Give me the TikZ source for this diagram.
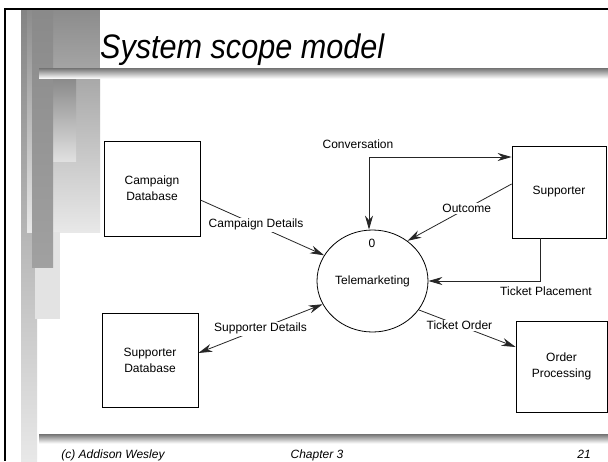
\documentclass[tikz,border=0pt]{standalone}
\usepackage{fontspec}
\setmainfont{Liberation Sans}
\usetikzlibrary{arrows.meta,shapes.geometric}
\begin{document}
\begin{tikzpicture}[x=1pt,y=-1pt,
  box/.style={draw=black,line width=0.8pt,rectangle,align=center,inner sep=0pt,
    font=\fontsize{12}{16}\selectfont},
  proc/.style={draw=black,line width=0.8pt,ellipse,inner sep=0pt,minimum width=111pt,minimum height=102pt},
  lbl/.style={font=\fontsize{12}{14}\selectfont,inner sep=1.5pt},
  lblw/.style={lbl,fill=white},
  flow/.style={line width=0.8pt,draw=black!85},
  tip/.style={-{Stealth[length=14pt,width=8pt,inset=4.5pt]}},
  tips/.style={{Stealth[length=14pt,width=8pt,inset=4.5pt]}-{Stealth[length=14pt,width=8pt,inset=4.5pt]}},
  foot/.style={font=\fontsize{12}{14}\selectfont\itshape,anchor=base,inner sep=0pt}]
\useasboundingbox (0,0) rectangle (608,461);
\fill[white] (0,0) rectangle (608,461);
% decorative bars
\shade[top color=black!48,bottom color=black!9] (21,10) rectangle (37,461);
\shade[top color=black!45,bottom color=black!9] (27,10) rectangle (100,232);
\fill[black!11] (35,232) rectangle (60,319);
\shade[top color=black!46,bottom color=black!12] (40,78) rectangle (76,161);
\shade[top color=black!46,bottom color=black!37] (32,10) rectangle (53,267);
\fill[white] (100,10) rectangle (608,68);
% title underline and bottom bar
\shade[top color=black!55,bottom color=black!3] (39,68) rectangle (608,78);
\shade[top color=black!55,bottom color=black!3] (39,434) rectangle (608,443);
% border lines
\draw[line width=2pt,black] (4,9) -- (608,9);
\draw[line width=2pt,black] (5,9) -- (5,461);
% title
\node[anchor=base west,inner sep=0pt] (title) at (100,58)
  {\scalebox{0.9}[1]{\fontsize{34}{40}\selectfont\itshape System scope model}};
% nodes
\node[box,minimum width=96pt,minimum height=95pt] (cdb) at (152,188.5) {Campaign\\Database};
\node[box,minimum width=94pt,minimum height=92pt] (sup) at (559,192) {Supporter};
\node[box,minimum width=96pt,minimum height=94pt] (sdb) at (150,360) {Supporter\\Database};
\node[box,minimum width=91pt,minimum height=91pt] (op) at (561.5,366.5) {Order\\Processing};
\node[proc] (tm) at (372.5,281) {};
\node[lbl] (zero) at (372,243) {0};
\node[lbl] (tmt) at (372.5,281) {Telemarketing};
% flows
\draw[flow,tip] ([yshift=-11.5pt]cdb.east) -- node[lblw,pos=0.45] (cdl) {Campaign Details} (tm.152);
\draw[flow,tips] ([yshift=35pt]sup.west) -| ([xshift=-3.5pt]tm.north);
\node[lbl] (convl) at (358,144) {Conversation};
\draw[flow,tip] ([yshift=8pt]sup.west) -- node[lblw,pos=0.43] (outl) {Outcome} (tm.49);
\draw[flow,tip] ([xshift=-19pt]sup.south) |- (tm.east);
\node[lbl] (tpl) at (546,291) {Ticket Placement};
\draw[flow,tips] (tm.205) -- node[lblw,pos=0.5] (sdl) {Supporter Details} ([yshift=7pt]sdb.east);
\draw[flow,tip] (tm.328) -- node[lblw,pos=0.42] (tol) {Ticket Order} ([yshift=19.5pt]op.west);
% footer
\node[foot] (f1) at (113,458) {(c) Addison Wesley};
\node[foot] (f2) at (317,458) {Chapter 3};
\node[foot] (f3) at (584,458) {21};
\end{tikzpicture}
\end{document}
